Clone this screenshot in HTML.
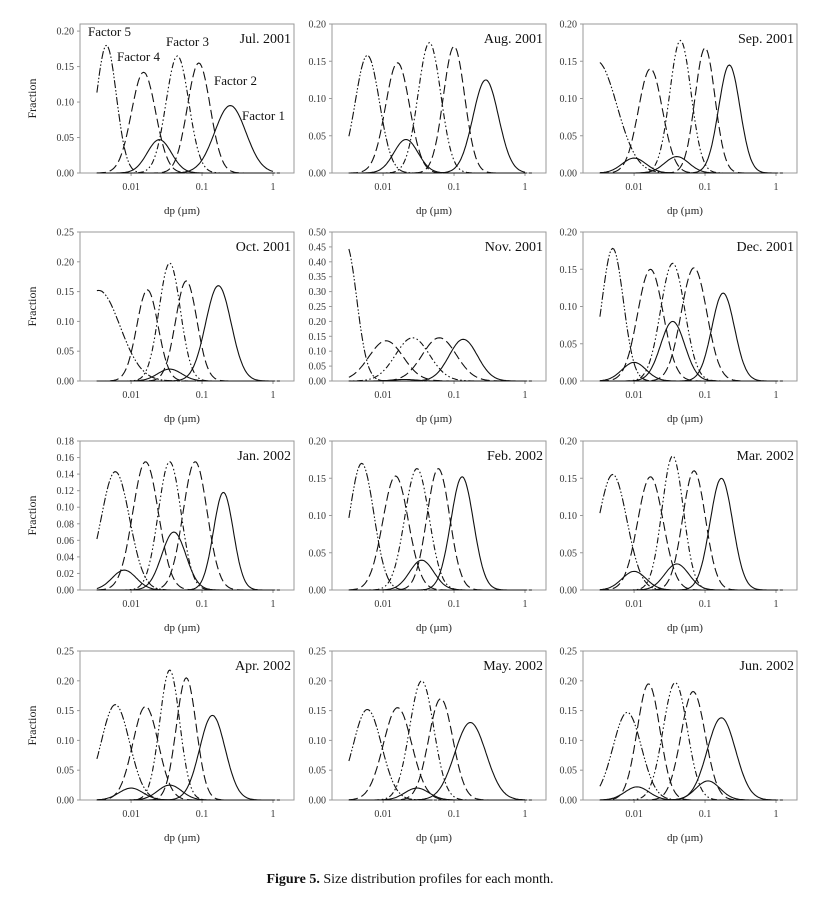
<!DOCTYPE html>
<html><head><meta charset="utf-8"><style>
body{margin:0;background:#fff;}
svg{display:block;font-family:"Liberation Serif",serif;}
</style></head><body>
<svg id="fig" width="824" height="900" viewBox="0 0 824 900"></svg>
<script>
// per-panel data
const months = ["Jul. 2001","Aug. 2001","Sep. 2001","Oct. 2001","Nov. 2001","Dec. 2001","Jan. 2002","Feb. 2002","Mar. 2002","Apr. 2002","May. 2002","Jun. 2002"];
const yMax = [0.21,0.20,0.20,0.25,0.50,0.20,0.18,0.20,0.20,0.25,0.25,0.25];
const yStep = [0.05,0.05,0.05,0.05,0.05,0.05,0.02,0.05,0.05,0.05,0.05,0.05];
const yTickMax = [0.20,0.20,0.20,0.25,0.50,0.20,0.18,0.20,0.20,0.25,0.25,0.25];
// factor peak diameters (µm) for Factor 5,4,3,2,1
const peakDp = [
 [0.0045,0.015,0.045,0.09,0.25],[0.006,0.016,0.045,0.10,0.28],[0.003,0.017,0.045,0.10,0.22],
 [0.0035,0.017,0.035,0.06,0.17],[0.003,0.011,0.026,0.062,0.135],[0.005,0.017,0.035,0.07,0.18],
 [0.006,0.016,0.035,0.08,0.20],[0.005,0.015,0.030,0.06,0.13],[0.005,0.017,0.035,0.07,0.17],
 [0.006,0.016,0.035,0.06,0.14],[0.006,0.016,0.035,0.065,0.17],[0.008,0.016,0.038,0.068,0.17]];
const peakFrac = [
 [0.180,0.142,0.165,0.155,0.095],[0.158,0.148,0.175,0.170,0.125],[0.150,0.140,0.178,0.168,0.145],
 [0.152,0.153,0.198,0.168,0.160],[0.46,0.135,0.145,0.145,0.140],[0.178,0.150,0.158,0.152,0.118],
 [0.143,0.155,0.155,0.155,0.118],[0.170,0.153,0.163,0.163,0.152],[0.155,0.152,0.180,0.160,0.150],
 [0.160,0.157,0.218,0.205,0.142],[0.152,0.155,0.200,0.170,0.130],[0.147,0.195,0.197,0.182,0.138]];
const peakWidth = [
 [0.14,0.17,0.16,0.16,0.22],[0.17,0.17,0.16,0.15,0.18],[0.28,0.17,0.15,0.14,0.15],
 [0.3,0.15,0.15,0.15,0.18],[0.15,0.24,0.24,0.24,0.2],[0.15,0.18,0.17,0.18,0.16],
 [0.2,0.18,0.16,0.17,0.14],[0.17,0.18,0.17,0.16,0.16],[0.2,0.18,0.15,0.16,0.16],
 [0.2,0.18,0.14,0.14,0.18],[0.2,0.2,0.17,0.17,0.22],[0.2,0.16,0.17,0.17,0.2]];
// minor solid bumps: [dp, frac]
const minorBumps = [
 [[0.025,0.047]],[[0.021,0.045]],[[0.010,0.020],[0.040,0.022]],[[0.035,0.020]],[[0.02,0.005]],
 [[0.035,0.080],[0.010,0.025]],[[0.040,0.070],[0.008,0.024]],[[0.035,0.040]],[[0.010,0.025],[0.040,0.035]],
 [[0.010,0.020],[0.035,0.025]],[[0.030,0.020]],[[0.011,0.022],[0.110,0.032]]];
const xTicks = [0.01,0.1,1];
const xTickLabels = ["0.01","0.1","1"];

const svg = document.getElementById('fig');
const NS = "http://www.w3.org/2000/svg";
function mk(tag, attrs, parent){const e=document.createElementNS(NS,tag);for(const k in attrs)e.setAttribute(k,attrs[k]);(parent||svg).appendChild(e);return e;}
const colL=[80,332,583], rowT=[24,232,441,651], W=214, H=149;
const logMin=-2.72, logMax=0.296;
const dashes=["8,2,1.5,2,1.5,2","9,4","1.5,2.5,1.5,2.5,6,2.5","9,4",""];
for(let p=0;p<12;p++){
  const L=colL[p%3], T=rowT[Math.floor(p/3)];
  const xs=d=>L+(Math.log10(d)-logMin)/(logMax-logMin)*W;
  const ys=v=>T+H-v/yMax[p]*H;
  const g=mk('g',{});
  
  
  const box=mk('rect',{x:L,y:T,width:W,height:H,fill:'none',stroke:'#999','stroke-width':1},g);
  
  const n=Math.round(yTickMax[p]/yStep[p]);
  for(let i=0;i<=n;i++){
    const v=i*yStep[p], y=ys(v);
    mk('line',{x1:L-3,x2:L,y1:y,y2:y,stroke:'#999'},g);
    const t=mk('text',{x:L-6,y:y+3.5,'text-anchor':'end','font-size':10,fill:'#333'},g);
    t.textContent=v.toFixed(2);
    
  }
  xTicks.forEach((d,i)=>{
    const x=xs(d);
    mk('line',{x1:x,x2:x,y1:T+H,y2:T+H+3,stroke:'#999'},g);
    const t=mk('text',{x:x,y:T+H+17,'text-anchor':'middle','font-size':10,fill:'#333'},g);
    t.textContent=xTickLabels[i];
    
  });
  const xt=mk('text',{x:L+W/2-5,y:T+H+41,'text-anchor':'middle','font-size':11,fill:'#222'},g);
  xt.textContent='dp (µm)';
  
  if(p%3===0){
    const yt=mk('text',{x:0,y:0,'text-anchor':'middle','font-size':12,fill:'#222',transform:`translate(${L-44},${T+H/2}) rotate(-90)`},g);
    yt.textContent='Fraction';
    
  }
  const mt=mk('text',{x:L+W-3,y:T+19,'text-anchor':'end','font-size':14,fill:'#111'},g);
  mt.textContent=months[p];
  
  const x0=Math.log10(0.0033), x1=Math.log10(1.0);
  function curve(c,h,s,dash,name){
    let d='';
    for(let k=0;k<=140;k++){
      const lx=x0+(x1-x0)*k/140;
      let v=h*Math.exp(-0.5*Math.pow((lx-Math.log10(c))/s,2));
      d+=(k?'L':'M')+xs(Math.pow(10,lx)).toFixed(1)+','+ys(v).toFixed(1);
    }
    const e=mk('path',{d:d,fill:'none',stroke:'#111','stroke-width':1.1,'stroke-dasharray':dash},g);
    
  }
  for(let f=0;f<5;f++) curve(peakDp[p][f],peakFrac[p][f],peakWidth[p][f],dashes[f],'factor-'+(5-f)+'-curve');
  minorBumps[p].forEach(b=>curve(b[0],b[1],0.17,'','minor-factor-curve'));
  const lineTail=mk('path',{d:`M${xs(0.0033)},${ys(0)}H${xs(1.3)}`,stroke:'#111','stroke-width':1,'stroke-dasharray':'3,2'},g);
  
  if(p===0){
    const labs=[["Factor 5",88,36],["Factor 4",117,61],["Factor 3",166,46],["Factor 2",214,85],["Factor 1",242,120]];
    labs.forEach(a=>{const t=mk('text',{x:a[1],y:a[2],'font-size':13,fill:'#111'},g);t.textContent=a[0];
      });
  }
}
const cap=mk('text',{x:410,y:883,'text-anchor':'middle','font-size':14,fill:'#111'});

cap.innerHTML='<tspan font-weight="bold">Figure 5.</tspan>   Size distribution profiles for each month.';
</script>
</body></html>
